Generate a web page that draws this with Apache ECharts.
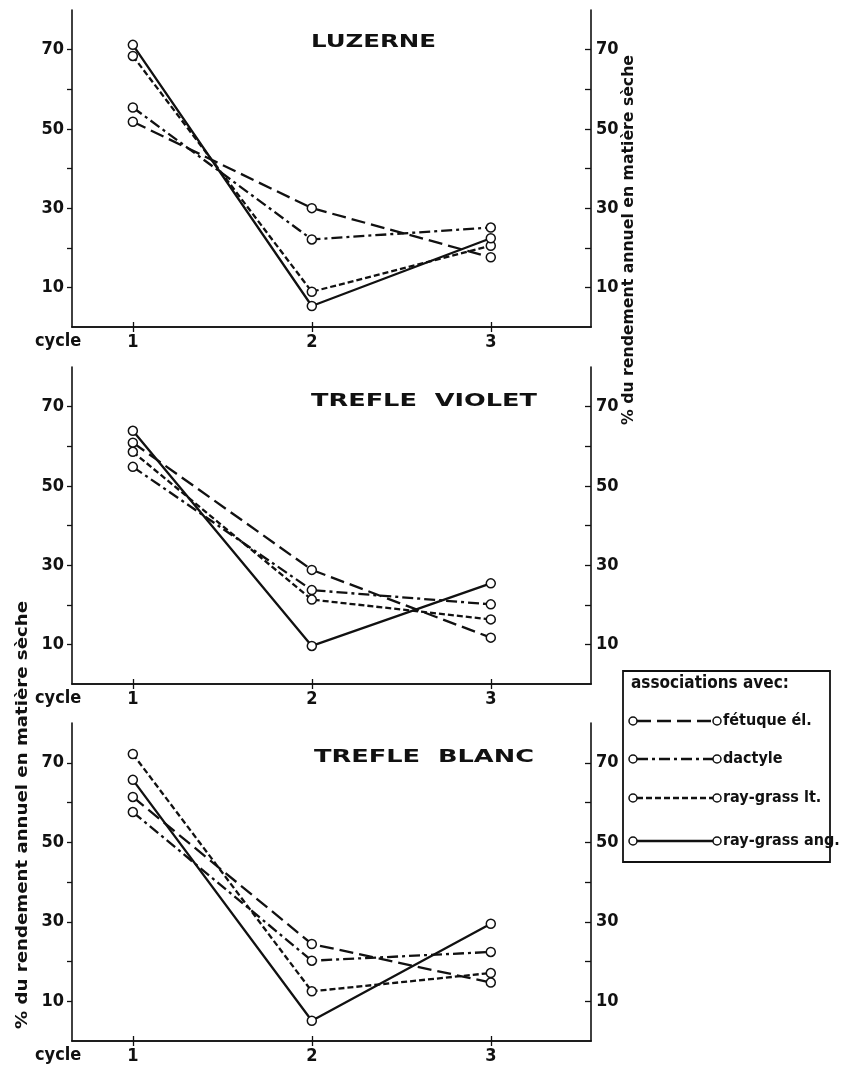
<!DOCTYPE html>
<html>
<head>
<meta charset="utf-8">
<script src="https://cdn.jsdelivr.net/npm/echarts@6/dist/echarts.min.js"></script>
<style>
html,body{margin:0;padding:0;background:#fff;}
#chart{width:842px;height:1072px;}
</style>
</head>
<body>
<div id="chart"></div>
<script>
// ---------- data ----------
const cycles = [1, 2, 3];
const yTickLabels = [10, 30, 50, 70];
const panelTitles = ['LUZERNE', 'TREFLE  VIOLET', 'TREFLE  BLANC'];
const seriesNames = ['fétuque él.', 'dactyle', 'ray-grass lt.', 'ray-grass ang.'];
const legendTitle = 'associations avec:';
const axisTitle = '% du rendement annuel en matière sèche';
const cycleLabel = 'cycle';

// LUZERNE
const luzFetuque = [51.8, 30.0, 17.6];
const luzDactyle = [55.4, 22.1, 25.1];
const luzRgLt    = [68.4, 8.9, 20.5];
const luzRgAng   = [71.2, 5.3, 22.4];
// TREFLE VIOLET
const tvFetuque = [60.9, 28.8, 11.7];
const tvDactyle = [54.8, 23.7, 20.1];
const tvRgLt    = [58.6, 21.3, 16.3];
const tvRgAng   = [63.9, 9.6, 25.4];
// TREFLE BLANC
const tbFetuque = [61.4, 24.4, 14.7];
const tbDactyle = [57.6, 20.2, 22.4];
const tbRgLt    = [72.2, 12.5, 17.1];
const tbRgAng   = [65.7, 5.1, 29.5];

const panelData = [
  [luzFetuque, luzDactyle, luzRgLt, luzRgAng],
  [tvFetuque, tvDactyle, tvRgLt, tvRgAng],
  [tbFetuque, tbDactyle, tbRgLt, tbRgAng]
];

// ---------- styles / layout ----------
const INK = '#111';
const FONT_C = "'Liberation Sans Narrow','DejaVu Sans Condensed',sans-serif";
const FONT_W = "'DejaVu Sans',sans-serif";
const dashes = [[14, 6], [11, 4, 3, 4], [6, 3], 'solid'];
const grids = [
  {left: 72, width: 519, top: 10, height: 317},
  {left: 72, width: 519, top: 367, height: 317},
  {left: 72, width: 519, top: 723, height: 318}
];
const titlePos = [{x: 311, y: 43, w: 125}, {x: 311, y: 402, w: 226}, {x: 314, y: 758, w: 220}];

const ctx = document.createElement('canvas').getContext('2d');
function textWidth(t, size, family) { ctx.font = 'bold ' + size + 'px ' + family; return ctx.measureText(t).width; }

const chart = echarts.init(document.getElementById('chart'), null, {renderer: 'canvas'});

const xAxes = [], yAxes = [], series = [], graphics = [];
grids.forEach((g, i) => {
  const base = {
    type: 'value', gridIndex: i, min: 0.66, max: 3.56,
    axisLine: {show: true, lineStyle: {color: INK, width: 1.6}},
    splitLine: {show: false},
    axisTick: {show: true, inside: true, length: 5, customValues: cycles, lineStyle: {color: INK, width: 1.3}}
  };
  xAxes.push(Object.assign({}, base, {
    position: 'bottom',
    axisLabel: {show: true, customValues: cycles, margin: 6, color: INK, fontSize: 18, fontWeight: 'bold', fontFamily: FONT_C}
  }));
  xAxes.push(Object.assign({}, base, {position: 'top', axisLabel: {show: false}}));
  const ybase = {
    type: 'value', gridIndex: i, min: 0, max: 80, interval: 10,
    axisLine: {show: true, lineStyle: {color: INK, width: 1.6}},
    splitLine: {show: false},
    axisLabel: {
      show: true, customValues: yTickLabels, color: INK, fontSize: 18, fontWeight: 'bold', fontFamily: FONT_C,
      formatter: v => (yTickLabels.indexOf(v) >= 0 ? String(v) : '')
    }
  };
  yAxes.push(Object.assign({}, ybase, {
    position: 'left',
    axisTick: {show: true, inside: false, length: 5, customValues: [10, 20, 30, 40, 50, 60, 70], lineStyle: {color: INK, width: 1.3}},
    axisLabel: Object.assign({}, ybase.axisLabel, {margin: 8})
  }));
  yAxes.push(Object.assign({}, ybase, {
    position: 'right',
    axisTick: {show: true, inside: true, length: 6, customValues: [10, 20, 30, 40, 50, 60, 70], lineStyle: {color: INK, width: 1.3}},
    axisLabel: Object.assign({}, ybase.axisLabel, {margin: 5})
  }));

  panelData[i].forEach((vals, k) => {
    series.push({
      type: 'line', name: seriesNames[k] + ' ' + i,
      xAxisIndex: i * 2, yAxisIndex: i * 2,
      data: vals.map((v, j) => [cycles[j], v]),
      symbol: 'circle', symbolSize: 9,
      itemStyle: {color: '#fff', borderColor: INK, borderWidth: 1.5},
      lineStyle: {color: INK, width: 2.3, type: dashes[k]},
      animation: false, z: 2 + k
    });
  });

  // panel title (wide bold)
  const tp = titlePos[i];
  const tw = textWidth(panelTitles[i], 17, FONT_W);
  graphics.push({
    type: 'text', x: tp.x, y: tp.y, scaleX: tp.w / tw,
    style: {text: panelTitles[i], fontSize: 17, fontWeight: 'bold', fontFamily: FONT_W, fill: INK, align: 'left', verticalAlign: 'middle'}
  });
  // "cycle" label
  graphics.push({
    type: 'text', x: 35, y: g.top + g.height + 14,
    style: {text: cycleLabel, fontSize: 18, fontWeight: 'bold', fontFamily: FONT_C, fill: INK, align: 'left', verticalAlign: 'middle'}
  });
});

// vertical axis titles
const vw = textWidth(axisTitle, 15, FONT_W);
graphics.push({
  type: 'text', x: 629, y: 240, rotation: Math.PI / 2, scaleX: 370 / vw,
  style: {text: axisTitle, fontSize: 15, fontWeight: 'bold', fontFamily: FONT_W, fill: INK, align: 'center', verticalAlign: 'middle'}
});
const vw2 = textWidth(axisTitle, 16, FONT_W);
graphics.push({
  type: 'text', x: 23, y: 815, rotation: Math.PI / 2, scaleX: 428 / vw2,
  style: {text: axisTitle, fontSize: 16, fontWeight: 'bold', fontFamily: FONT_W, fill: INK, align: 'center', verticalAlign: 'middle'}
});

// legend box
graphics.push({type: 'rect', shape: {x: 623, y: 671, width: 207, height: 191}, style: {fill: 'transparent', stroke: INK, lineWidth: 1.8}});
graphics.push({
  type: 'text', x: 631, y: 684,
  style: {text: legendTitle, fontSize: 17, fontWeight: 'bold', fontFamily: FONT_C, fill: INK, align: 'left', verticalAlign: 'middle'}
});
const rowY = [721, 759, 798, 841];
seriesNames.forEach((name, k) => {
  const y = rowY[k];
  graphics.push({type: 'line', shape: {x1: 637, y1: y, x2: 713, y2: y}, style: {stroke: INK, lineWidth: 2.3, lineDash: dashes[k] === 'solid' ? null : dashes[k]}});
  graphics.push({type: 'circle', shape: {cx: 633, cy: y, r: 4}, style: {fill: '#fff', stroke: INK, lineWidth: 1.5}});
  graphics.push({type: 'circle', shape: {cx: 717, cy: y, r: 4}, style: {fill: '#fff', stroke: INK, lineWidth: 1.5}});
  graphics.push({
    type: 'text', x: 723, y: y,
    style: {text: name, fontSize: 16, fontWeight: 'bold', fontFamily: FONT_C, fill: INK, align: 'left', verticalAlign: 'middle'}
  });
});

chart.setOption({
  backgroundColor: '#fff',
  animation: false,
  grid: grids.map(g => Object.assign({show: false, containLabel: false}, g)),
  xAxis: xAxes,
  yAxis: yAxes,
  series: series,
  graphic: graphics
});
</script>
</body>
</html>
